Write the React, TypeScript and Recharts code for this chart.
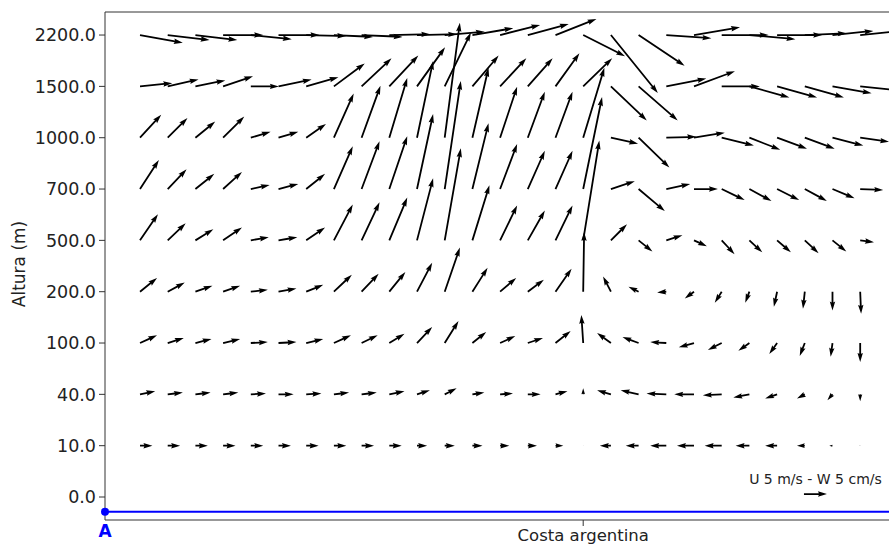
import { ScatterChart, Scatter, XAxis, YAxis, ReferenceLine } from "recharts";

// height levels (m), plotted one per row
const LEVELS = ["0.0", "10.0", "40.0", "100.0", "200.0", "500.0", "700.0", "1000.0", "1500.0", "2200.0"];
const COAST_COL = 16;
const SURFACE_LEVEL = -0.286;

// U in m/s per column (A -> coast -> ocean), one array per level
const U10 = [2.7, 2.7, 2.7, 2.7, 2.7, 2.7, 2.7, 2.7, 2.7, 2.7, 2.2, 2.2, 2.2, 2.0, 2.0, 1.7, 0.1, -2.4, -2.8, -3.5, -3.7, -3.7, -3.0, -2.6, -1.7, -0.7, -0.2];
const U40 = [3.3, 3.3, 3.3, 3.3, 3.3, 3.3, 3.3, 3.3, 3.3, 3.3, 2.8, 2.6, 2.6, 2.8, 2.8, 2.6, 0, -3.0, -3.9, -4.3, -4.3, -4.1, -3.5, -2.6, -1.7, -1.1, 0];
const U100 = [3.7, 3.5, 3.5, 3.7, 3.7, 3.9, 3.7, 3.7, 3.5, 3.3, 3.3, 3.0, 3.0, 3.3, 3.3, 3.3, -0.4, -3.0, -3.5, -3.5, -3.3, -3.0, -2.4, -1.7, -1.1, -0.4, 0];
const U200 = [3.7, 3.7, 3.7, 3.7, 3.7, 3.9, 3.7, 3.9, 3.7, 3.5, 3.3, 3.3, 3.3, 3.5, 3.5, 3.5, 0.2, -1.7, -2.2, -2.0, -2.0, -1.5, -0.9, -0.7, -0.4, 0, 0.2];
const U500 = [3.9, 3.9, 3.9, 4.1, 3.9, 4.1, 4.1, 4.1, 3.9, 3.9, 3.5, 3.5, 3.7, 3.7, 3.7, 3.7, 3.5, 3.5, 3.0, 3.5, 2.8, 2.8, 2.8, 3.0, 3.0, 3.0, 3.0];
const U700 = [4.1, 4.1, 4.1, 4.1, 4.1, 4.3, 4.1, 4.1, 3.9, 3.9, 3.5, 3.5, 3.5, 3.7, 3.7, 3.7, 4.1, 5.2, 5.7, 5.2, 5.2, 5.0, 4.8, 4.8, 4.8, 4.8, 5.0];
const U1000 = [4.6, 4.3, 4.3, 4.6, 4.3, 4.3, 4.3, 4.3, 4.1, 3.9, 3.5, 3.3, 3.5, 3.7, 3.7, 3.7, 4.6, 5.9, 6.7, 6.5, 6.7, 7.0, 6.7, 6.5, 6.5, 6.7, 6.3];
const U1500 = [7.0, 6.7, 6.5, 6.5, 6.1, 7.2, 7.0, 6.7, 6.5, 6.3, 6.1, 5.7, 5.7, 5.7, 5.4, 5.2, 6.3, 7.8, 8.5, 8.7, 8.9, 8.3, 8.7, 8.7, 8.5, 8.5, 8.7];
const U2200 = [9.3, 9.1, 9.1, 8.7, 8.9, 8.9, 8.7, 8.5, 8.9, 8.9, 8.7, 8.7, 8.9, 8.7, 8.9, 8.9, 9.1, 10.2, 10.0, 9.8, 10.0, 10.2, 10.0, 9.8, 9.1, 8.9, 9.1];

// W in cm/s per column
const W10 = [0, 0, 0, 0, 0, 0, 0, 0, 0, 0, 0, 0, 0, 0, 0, 0, 0, 0, 0, 0, 0, 0, 0, 0, 0, 0, 0];
const W40 = [0.7, 0.4, 0.4, 0.4, 0.2, 0, 0.2, 0.4, 0.4, 0.7, 0.9, 1.3, 0.4, 0.2, 0, 0.7, 1.3, 0.9, 0.9, 0.2, 0, -0.2, -0.7, -0.9, -0.9, -1.3, -1.5];
const W100 = [1.7, 1.1, 0.9, 0.9, 0.2, 0.2, 0.9, 1.7, 1.7, 2.0, 3.5, 4.8, 2.4, 1.5, 1.1, 2.6, 6.1, 2.2, 1.3, 0.2, -0.9, -1.5, -1.7, -2.4, -2.8, -3.0, -4.1];
const W200 = [3.0, 2.0, 1.3, 1.3, 0.4, 0.7, 1.5, 3.7, 3.9, 4.3, 6.3, 9.6, 5.2, 3.0, 2.6, 5.0, 13.0, 3.3, 1.1, -0.2, -1.5, -2.4, -2.4, -3.3, -3.7, -4.1, -4.8];
const W500 = [5.7, 3.7, 2.4, 2.8, 0.7, 0.7, 2.8, 7.8, 8.3, 9.3, 13.5, 20.0, 12.0, 7.6, 6.5, 7.6, 21.7, 3.5, -2.4, 1.1, -1.3, -3.0, -2.6, -2.6, -2.8, -2.4, -0.4];
const W700 = [6.3, 4.3, 3.3, 3.7, 0.9, 1.1, 3.3, 9.3, 10.4, 11.5, 16.3, 23.5, 14.3, 9.8, 8.3, 8.3, 20.0, 1.7, -4.8, 1.1, 0, -2.4, -2.6, -2.4, -2.6, -2.0, -0.2];
const W1000 = [5.0, 4.3, 3.5, 4.6, 1.3, 1.3, 3.0, 9.6, 11.3, 13.0, 16.7, 25.0, 15.2, 11.1, 10.0, 10.0, 15.2, -1.3, -6.5, 0.2, 1.1, -1.7, -2.6, -2.4, -2.4, -1.7, -0.9];
const W1500 = [0.7, 1.5, 1.3, 2.2, 0, 1.5, 2.0, 5.0, 6.1, 6.7, 8.5, 11.7, 6.7, 6.1, 6.1, 7.2, 6.1, -7.4, -7.4, 1.7, 3.3, 0, -2.4, -2.4, -2.4, -1.5, -0.9];
const W2200 = [-1.7, -1.1, -1.1, 0, -0.9, 0, -0.2, -0.4, -0.4, 0.2, 0.2, 0.7, 1.5, 2.2, 2.4, 3.5, -4.6, -12.6, -6.7, -0.7, 1.7, 0, -0.9, 0, 0.4, 0.9, 0.9];

const U_ROWS = [U10, U40, U100, U200, U500, U700, U1000, U1500, U2200];
const W_ROWS = [W10, W40, W100, W200, W500, W700, W1000, W1500, W2200];

const KEY_U = 5;
const KEY_LABEL = "U 5 m/s - W 5 cm/s";

const vectors = U_ROWS.flatMap((row, i) =>
  row.map((u, c) => ({ x: c, y: i + 1, u, w: W_ROWS[i][c] }))
);

const XMIN = -1.264;
const XMAX = 27.04;
const YMIN = -0.448;
const YMAX = 9.449;

const surface = [
  { x: XMIN, y: SURFACE_LEVEL },
  { x: XMAX, y: SURFACE_LEVEL },
];
const keyPoint = [{ x: 23.97, y: 0.058, u: KEY_U, w: 0 }];

const FONT = "DejaVu Sans, sans-serif";
const PX_PER_UNIT = 4.6; // quiver scale
const SHAFT = 1.8;

function arrowPoints(cx: number, cy: number, u: number, w: number) {
  const dx = u * PX_PER_UNIT;
  const dy = -w * PX_PER_UNIT;
  const len = Math.hypot(dx, dy);
  if (len < 0.3) return null;
  const s = Math.min(1, len / (5 * SHAFT));
  const sw = SHAFT * s;
  const hl = 5 * SHAFT * s;
  const hal = 4.5 * SHAFT * s;
  const hw = 1.5 * SHAFT * s;
  const pts = [
    [0, sw / 2], [len - hal, sw / 2], [len - hl, hw], [len, 0],
    [len - hl, -hw], [len - hal, -sw / 2], [0, -sw / 2],
  ];
  const c = dx / len;
  const sn = dy / len;
  return pts.map(([px, py]) => `${cx + px * c - py * sn},${cy + px * sn + py * c}`).join(" ");
}

const Arrow = (props: any) => {
  const { cx, cy, payload } = props;
  const pts = arrowPoints(cx, cy, payload.u, payload.w);
  if (!pts) return <circle cx={cx} cy={cy} r={0.8} fill="#000" />;
  return <polygon points={pts} fill="#000" />;
};

const KeyArrow = (props: any) => {
  const { cx, cy, payload } = props;
  const pts = arrowPoints(cx, cy, payload.u, payload.w);
  const mid = cx + (payload.u * PX_PER_UNIT) / 2;
  return (
    <g>
      <polygon points={pts || ""} fill="#000" />
      <text x={mid} y={cy - 10} textAnchor="middle" fontSize={14} fontFamily={FONT} fill="#222">
        {KEY_LABEL}
      </text>
    </g>
  );
};

const SurfaceDot = (props: any) => {
  const { cx, cy, index } = props;
  if (index !== 0) return <g />;
  return <circle cx={cx} cy={cy} r={4} fill="#0000ff" />;
};

const XTick = (props: any) => {
  const { x, y, payload } = props;
  if (payload.value === COAST_COL) {
    return (
      <g>
        <line x1={x} y1={y - 8} x2={x} y2={y - 2} stroke="#333" />
        <text x={x} y={y + 13} textAnchor="middle" fontSize={16.5} fontFamily={FONT} fill="#222">
          Costa argentina
        </text>
      </g>
    );
  }
  return (
    <text x={x} y={y + 9} textAnchor="middle" fontSize={17} fontWeight="bold" fontFamily={FONT} fill="#0000ff">
      A
    </text>
  );
};

export default function App() {
  return (
    <div style={{ position: "absolute", left: 0, top: 0, width: 889, height: 545, background: "#fff" }}>
      <ScatterChart width={889} height={545} margin={{ top: 12, right: 0, bottom: 0, left: 35 }}>
        <XAxis
          type="number"
          dataKey="x"
          domain={[XMIN, XMAX]}
          ticks={[XMIN, COAST_COL]}
          interval={0}
          height={25}
          tickSize={6}
          tickMargin={2}
          tickLine={false}
          axisLine={{ stroke: "#333" }}
          tick={<XTick />}
        />
        <YAxis
          type="number"
          dataKey="y"
          domain={[YMIN, YMAX]}
          ticks={[0, 1, 2, 3, 4, 5, 6, 7, 8, 9]}
          interval={0}
          width={70}
          tickSize={6}
          tickMargin={3}
          tickFormatter={(v: number) => LEVELS[v]}
          axisLine={{ stroke: "#333" }}
          tickLine={{ stroke: "#333" }}
          tick={{ fontSize: 17.5, fill: "#222", fontFamily: FONT }}
        />
        <ReferenceLine y={YMAX} stroke="#333" />
        <Scatter data={surface} line={{ stroke: "#0000ff", strokeWidth: 2 }} shape={<SurfaceDot />} isAnimationActive={false} />
        <Scatter data={vectors} shape={<Arrow />} isAnimationActive={false} />
        <Scatter data={keyPoint} shape={<KeyArrow />} isAnimationActive={false} />
      </ScatterChart>
      <div
        style={{
          position: "absolute",
          left: 19,
          top: 264,
          transform: "translate(-50%, -50%) rotate(-90deg)",
          fontFamily: FONT,
          fontSize: 17,
          color: "#222",
          whiteSpace: "nowrap",
        }}
      >
        Altura (m)
      </div>
    </div>
  );
}
